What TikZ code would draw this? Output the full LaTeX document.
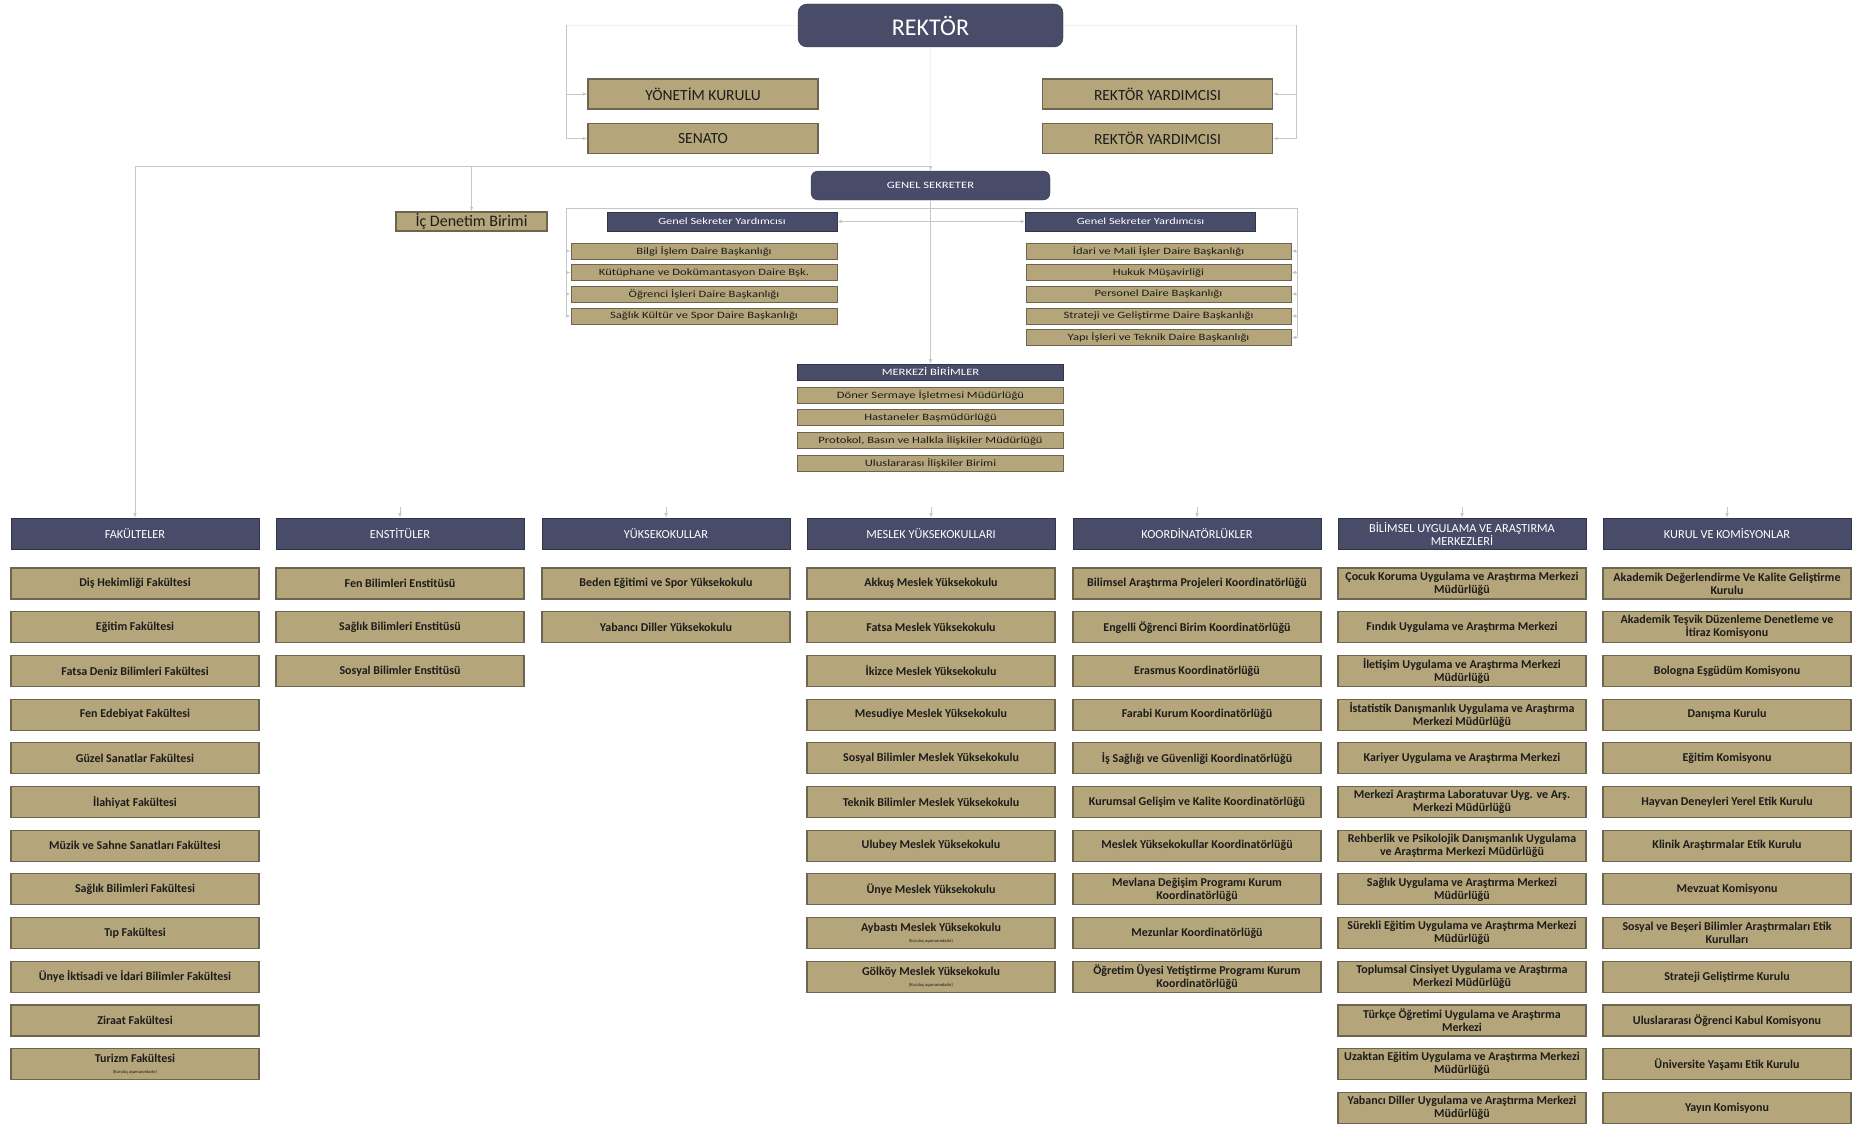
\documentclass[tikz,border=0pt]{standalone}
\usepackage{fontspec}
\setmainfont{Carlito}
\newfontfamily\stretchfont[FakeStretch=1.3]{Carlito}
\usetikzlibrary{calc,positioning}

\definecolor{orgnavy}{HTML}{484C68}
\definecolor{orggold}{HTML}{B5A57A}
\definecolor{orgedge}{HTML}{6E6550}
\definecolor{orgtext}{HTML}{1C1C1C}

\newcommand{\unitfont}{\fontsize{12}{13}\selectfont\bfseries}
\newcommand{\headfont}{\fontsize{12.3}{13}\selectfont}
\newcommand{\itemfont}{\stretchfont\fontsize{9.7}{11}\selectfont}
\newcommand{\notefont}{\fontsize{4.5}{5}\selectfont\mdseries}

\begin{document}
\begin{tikzpicture}[x=1pt,y=-1pt]

\tikzstyle{orgtop} = [rectangle,rounded corners=9pt,draw=orgnavy!70!black,fill=orgnavy,text=white,inner sep=0]%
\tikzstyle{orghead} = [rectangle,draw=orgnavy!70!black,fill=orgnavy,text=white!95,minimum width=248pt,minimum height=31pt,inner sep=1pt,align=center,font=\headfont]%
\tikzstyle{orgunit} = [rectangle,draw=orgedge,line width=1.1pt,fill=orggold,text=orgtext,minimum width=248pt,minimum height=31pt,inner sep=1pt,align=center,font=\unitfont]%
\tikzstyle{orgtopunit} = [orgunit,minimum width=230pt,minimum height=30pt,font=\fontsize{15.5}{17}\selectfont]%
\tikzstyle{orgitem} = [orgunit,line width=0.9pt,minimum width=266pt,minimum height=16pt,inner sep=0,font=\itemfont]%
\tikzstyle{orgarc} = [->,>=latex,draw=black!22,line width=0.6pt]%
\tikzstyle{orgline} = [draw=black!22,line width=0.6pt]%

\useasboundingbox (0,0) rectangle (1854,1124);

% rector and boards
\node[orgtop,minimum width=265pt,minimum height=43pt,font=\fontsize{24}{26}\selectfont] (rektor) at (930.5,25.5) {REKTÖR};
\node[orgtopunit] (yk) at (703,94) {YÖNETİM KURULU};
\node[orgtopunit] (senato) at (703,138.5) {SENATO};
\node[orgtopunit] (ry1) at (1157.5,94) {REKTÖR YARDIMCISI};
\node[orgtopunit] (ry2) at (1157.5,138.5) {REKTÖR YARDIMCISI};

% general secretary
\node[orgtop,rounded corners=7pt,minimum width=239pt,minimum height=29pt,font=\stretchfont\fontsize{9.7}{11}\selectfont] (gs) at (930.5,185.5) {GENEL SEKRETER};
\node[orgunit,minimum width=151pt,minimum height=19pt,font=\fontsize{16}{18}\selectfont] (icd) at (471.5,221.5) {İç Denetim Birimi};
\node[orghead,minimum width=230pt,minimum height=19pt,font=\stretchfont\fontsize{9.5}{11}\selectfont] (gsy1) at (722,221.5) {Genel Sekreter Yardımcısı};
\node[orghead,minimum width=230pt,minimum height=19pt,font=\stretchfont\fontsize{9.5}{11}\selectfont] (gsy2) at (1140.5,221.5) {Genel Sekreter Yardımcısı};

\node[orgitem] (bilgi) at (704,251) {Bilgi İşlem Daire Başkanlığı};
\node[orgitem] (kutup) at (704,272.5) {Kütüphane ve Dokümantasyon Daire Bşk.};
\node[orgitem] (ogrenci) at (704,294) {Öğrenci İşleri Daire Başkanlığı};
\node[orgitem] (saglik) at (704,316) {Sağlık Kültür ve Spor Daire Başkanlığı};

\node[orgitem,minimum width=265pt] (idari) at (1158.5,251) {İdari ve Mali İşler Daire Başkanlığı};
\node[orgitem,minimum width=265pt] (hukuk) at (1158.5,272.5) {Hukuk Müşavirliği};
\node[orgitem,minimum width=265pt] (personel) at (1158.5,294) {Personel Daire Başkanlığı};
\node[orgitem,minimum width=265pt] (strateji) at (1158.5,316) {Strateji ve Geliştirme Daire Başkanlığı};
\node[orgitem,minimum width=265pt] (yapi) at (1158.5,337.5) {Yapı İşleri ve Teknik Daire Başkanlığı};

% central units
\node[orghead,minimum width=266pt,minimum height=16pt,inner sep=0,font=\itemfont] (merkezi) at (930.5,372) {MERKEZİ BİRİMLER};
\node[orgitem] (doner) at (930.5,395) {Döner Sermaye İşletmesi Müdürlüğü};
\node[orgitem] (hastane) at (930.5,417.5) {Hastaneler Başmüdürlüğü};
\node[orgitem] (protokol) at (930.5,440.5) {Protokol, Basın ve Halkla İlişkiler Müdürlüğü};
\node[orgitem] (ulusl) at (930.5,463.5) {Uluslararası İlişkiler Birimi};

% column headers
\node[orghead] (fak) at (135,533.5) {FAKÜLTELER};
\node[orghead] (ens) at (400,533.5) {ENSTİTÜLER};
\node[orghead] (yo) at (666,533.5) {YÜKSEKOKULLAR};
\node[orghead] (myo) at (931,533.5) {MESLEK YÜKSEKOKULLARI};
\node[orghead] (koord) at (1197,533.5) {KOORDİNATÖRLÜKLER};
\node[orghead] (bum) at (1462,533.5) {BİLİMSEL UYGULAMA VE ARAŞTIRMA\\MERKEZLERİ};
\node[orghead] (kurul) at (1727,533.5) {KURUL VE KOMİSYONLAR};

% faculties
\node[orgunit] (fak1) at (135,583.5) {Diş Hekimliği Fakültesi};
\node[orgunit] (fak2) at (135,627.2) {Eğitim Fakültesi};
\node[orgunit] (fak3) at (135,670.9) {Fatsa Deniz Bilimleri Fakültesi};
\node[orgunit] (fak4) at (135,714.6) {Fen Edebiyat Fakültesi};
\node[orgunit] (fak5) at (135,758.3) {Güzel Sanatlar Fakültesi};
\node[orgunit] (fak6) at (135,802) {İlahiyat Fakültesi};
\node[orgunit] (fak7) at (135,845.7) {Müzik ve Sahne Sanatları Fakültesi};
\node[orgunit] (fak8) at (135,889.4) {Sağlık Bilimleri Fakültesi};
\node[orgunit] (fak9) at (135,933.1) {Tıp Fakültesi};
\node[orgunit] (fak10) at (135,976.8) {Ünye İktisadi ve İdari Bilimler Fakültesi};
\node[orgunit] (fak11) at (135,1020.5) {Ziraat Fakültesi};
\node[orgunit] (fak12) at (135,1064.2) {Turizm Fakültesi\\[-2pt]{\notefont (Kuruluş aşamasındadır)}};

% institutes
\node[orgunit] (ens1) at (400,583.5) {Fen Bilimleri Enstitüsü};
\node[orgunit] (ens2) at (400,627.2) {Sağlık Bilimleri Enstitüsü};
\node[orgunit] (ens3) at (400,670.9) {Sosyal Bilimler Enstitüsü};

% schools
\node[orgunit] (yo1) at (666,583.5) {Beden Eğitimi ve Spor Yüksekokulu};
\node[orgunit] (yo2) at (666,627.2) {Yabancı Diller Yüksekokulu};

% vocational schools
\node[orgunit] (myo1) at (931,583.5) {Akkuş Meslek Yüksekokulu};
\node[orgunit] (myo2) at (931,627.2) {Fatsa Meslek Yüksekokulu};
\node[orgunit] (myo3) at (931,670.9) {İkizce Meslek Yüksekokulu};
\node[orgunit] (myo4) at (931,714.6) {Mesudiye Meslek Yüksekokulu};
\node[orgunit] (myo5) at (931,758.3) {Sosyal Bilimler Meslek Yüksekokulu};
\node[orgunit] (myo6) at (931,802) {Teknik Bilimler Meslek Yüksekokulu};
\node[orgunit] (myo7) at (931,845.7) {Ulubey Meslek Yüksekokulu};
\node[orgunit] (myo8) at (931,889.4) {Ünye Meslek Yüksekokulu};
\node[orgunit] (myo9) at (931,933.1) {Aybastı Meslek Yüksekokulu\\[-2pt]{\notefont (Kuruluş aşamasındadır)}};
\node[orgunit] (myo10) at (931,976.8) {Gölköy Meslek Yüksekokulu\\[-2pt]{\notefont (Kuruluş aşamasındadır)}};

% coordinators
\node[orgunit] (ko1) at (1197,583.5) {Bilimsel Araştırma Projeleri Koordinatörlüğü};
\node[orgunit] (ko2) at (1197,627.2) {Engelli Öğrenci Birim Koordinatörlüğü};
\node[orgunit] (ko3) at (1197,670.9) {Erasmus Koordinatörlüğü};
\node[orgunit] (ko4) at (1197,714.6) {Farabi Kurum Koordinatörlüğü};
\node[orgunit] (ko5) at (1197,758.3) {İş Sağlığı ve Güvenliği Koordinatörlüğü};
\node[orgunit] (ko6) at (1197,802) {Kurumsal Gelişim ve Kalite Koordinatörlüğü};
\node[orgunit] (ko7) at (1197,845.7) {Meslek Yüksekokullar Koordinatörlüğü};
\node[orgunit] (ko8) at (1197,889.4) {Mevlana Değişim Programı Kurum\\Koordinatörlüğü};
\node[orgunit] (ko9) at (1197,933.1) {Mezunlar Koordinatörlüğü};
\node[orgunit] (ko10) at (1197,976.8) {Öğretim Üyesi Yetiştirme Programı Kurum\\Koordinatörlüğü};

% research centres
\node[orgunit] (bum1) at (1462,583.5) {Çocuk Koruma Uygulama ve Araştırma Merkezi\\Müdürlüğü};
\node[orgunit] (bum2) at (1462,627.2) {Fındık Uygulama ve Araştırma Merkezi};
\node[orgunit] (bum3) at (1462,670.9) {İletişim Uygulama ve Araştırma Merkezi\\Müdürlüğü};
\node[orgunit] (bum4) at (1462,714.6) {İstatistik Danışmanlık Uygulama ve Araştırma\\Merkezi Müdürlüğü};
\node[orgunit] (bum5) at (1462,758.3) {Kariyer Uygulama ve Araştırma Merkezi};
\node[orgunit] (bum6) at (1462,802) {Merkezi Araştırma Laboratuvar Uyg. ve Arş.\\Merkezi Müdürlüğü};
\node[orgunit] (bum7) at (1462,845.7) {Rehberlik ve Psikolojik Danışmanlık Uygulama\\ve Araştırma Merkezi Müdürlüğü};
\node[orgunit] (bum8) at (1462,889.4) {Sağlık Uygulama ve Araştırma Merkezi\\Müdürlüğü};
\node[orgunit] (bum9) at (1462,933.1) {Sürekli Eğitim Uygulama ve Araştırma Merkezi\\Müdürlüğü};
\node[orgunit] (bum10) at (1462,976.8) {Toplumsal Cinsiyet Uygulama ve Araştırma\\Merkezi Müdürlüğü};
\node[orgunit] (bum11) at (1462,1020.5) {Türkçe Öğretimi Uygulama ve Araştırma\\Merkezi};
\node[orgunit] (bum12) at (1462,1064.2) {Uzaktan Eğitim Uygulama ve Araştırma Merkezi\\Müdürlüğü};
\node[orgunit] (bum13) at (1462,1107.9) {Yabancı Diller Uygulama ve Araştırma Merkezi\\Müdürlüğü};

% boards and commissions
\node[orgunit] (ku1) at (1727,583.5) {Akademik Değerlendirme Ve Kalite Geliştirme\\Kurulu};
\node[orgunit] (ku2) at (1727,627.2) {Akademik Teşvik Düzenleme Denetleme ve\\İtiraz Komisyonu};
\node[orgunit] (ku3) at (1727,670.9) {Bologna Eşgüdüm Komisyonu};
\node[orgunit] (ku4) at (1727,714.6) {Danışma Kurulu};
\node[orgunit] (ku5) at (1727,758.3) {Eğitim Komisyonu};
\node[orgunit] (ku6) at (1727,802) {Hayvan Deneyleri Yerel Etik Kurulu};
\node[orgunit] (ku7) at (1727,845.7) {Klinik Araştırmalar Etik Kurulu};
\node[orgunit] (ku8) at (1727,889.4) {Mevzuat Komisyonu};
\node[orgunit] (ku9) at (1727,933.1) {Sosyal ve Beşeri Bilimler Araştırmaları Etik\\Kurulları};
\node[orgunit] (ku10) at (1727,976.8) {Strateji Geliştirme Kurulu};
\node[orgunit] (ku11) at (1727,1020.5) {Uluslararası Öğrenci Kabul Komisyonu};
\node[orgunit] (ku12) at (1727,1064.2) {Üniversite Yaşamı Etik Kurulu};
\node[orgunit] (ku13) at (1727,1107.9) {Yayın Komisyonu};

% connectors
\coordinate (rl) at (566,25.5);
\coordinate (rr) at (1296,25.5);
\draw[orgline,draw opacity=0.25] (rektor.west) -- (rl);
\draw[orgline,draw opacity=0.25] (rektor.east) -- (rr);
\draw[orgarc] (rl) |- (yk.west);
\draw[orgarc] (rl) |- (senato.west);
\draw[orgarc] (rr) |- (ry1.east);
\draw[orgarc] (rr) |- (ry2.east);
\draw[orgarc,draw opacity=0.25] (rektor.south) -- (gs.north);

\coordinate (bus) at (930.5,166);
\draw[orgarc] (bus) -| (icd.north);
\draw[orgarc] (bus) -| (fak.north);

\coordinate (gl) at (566,208);
\coordinate (gr) at (1297,208);
\draw[orgline] (gl) -- (gr);
\draw[orgarc] (gl) |- (bilgi.west);
\draw[orgarc] (gl) |- (kutup.west);
\draw[orgarc] (gl) |- (ogrenci.west);
\draw[orgarc] (gl) |- (saglik.west);
\draw[orgarc] (gr) |- (idari.east);
\draw[orgarc] (gr) |- (hukuk.east);
\draw[orgarc] (gr) |- (personel.east);
\draw[orgarc] (gr) |- (strateji.east);
\draw[orgarc] (gr) |- (yapi.east);
\draw[orgarc,<->] (gsy1.east) -- (gsy2.west);
\draw[orgarc] (gs.south) -- (merkezi.north);

\coordinate (s2) at (400,507);
\coordinate (s3) at (666,507);
\coordinate (s4) at (931,507);
\coordinate (s5) at (1197,507);
\coordinate (s6) at (1462,507);
\coordinate (s7) at (1727,507);
\draw[orgarc] (s2) -- (ens.north);
\draw[orgarc] (s3) -- (yo.north);
\draw[orgarc] (s4) -- (myo.north);
\draw[orgarc] (s5) -- (koord.north);
\draw[orgarc] (s6) -- (bum.north);
\draw[orgarc] (s7) -- (kurul.north);

\end{tikzpicture}
\end{document}
